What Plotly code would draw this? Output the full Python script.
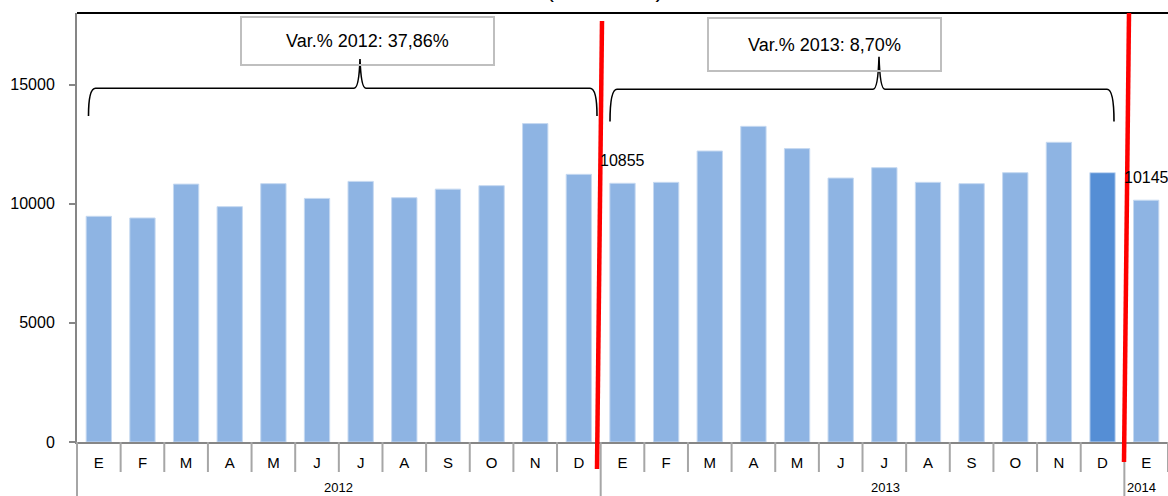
import plotly.graph_objects as go

# ---------------- data ----------------
months = ["E", "F", "M", "A", "M", "J", "J", "A", "S", "O", "N", "D",
          "E", "F", "M", "A", "M", "J", "J", "A", "S", "O", "N", "D",
          "E"]
years = ["2012", "2013", "2014"]
values_2012 = [9470, 9400, 10820, 9875, 10840, 10220, 10935, 10250, 10610, 10755, 13360, 11230]
values_2013 = [10855, 10895, 12210, 13245, 12310, 11075, 11510, 10895, 10840, 11300, 12575, 11300]
values_2014 = [10145]
labels_shown = {12: "10855", 24: "10145"}
var_texts = ["Var.% 2012: 37,86%", "Var.% 2013: 8,70%"]
title_text = "(Unidades)"
y_tickvals = [0, 5000, 10000, 15000]
y_ticktext = ["0", "5000", "10000", "15000"]

values = values_2012 + values_2013 + values_2014
xs = list(range(len(values)))
light = "#8EB4E3"
dark = "#558ED5"
colors = [light] * len(values)
colors[23] = dark

FONT = "Liberation Sans, Arial, sans-serif"

# page geometry
W, H = 1168, 496
L, R, T, B = 77, 1168, 13, 442


def px2x(p):
    return (p - L) / (R - L)


def py2y(p):
    return (B - p) / (B - T)


fig = go.Figure()
fig.add_trace(go.Bar(
    x=xs, y=values, marker=dict(color=colors, line=dict(color="#C6D9F1", width=1)),
    width=0.58, hoverinfo="x+y", showlegend=False,
))

shapes = []
annotations = []

# top border line
shapes.append(dict(type="line", xref="paper", yref="paper", x0=0, x1=1, y0=1, y1=1,
                   line=dict(color="#000000", width=2)))

# category separators below the axis
n = len(values)
year_bounds = [-0.5, 11.5, 23.5]
for k in range(n + 1):
    b = k - 0.5
    xp = (b + 0.5) / n
    y1 = py2y(500) if b in year_bounds else py2y(472)
    shapes.append(dict(type="line", xref="paper", yref="paper", x0=xp, x1=xp,
                       y0=0, y1=y1, line=dict(color="#A6A6A6", width=2)))

# year labels
for txt, pxc in zip(years, [338.6, 885, 1141]):
    annotations.append(dict(text=txt, x=px2x(pxc), y=py2y(487.5), xref="paper", yref="paper",
                            showarrow=False, font=dict(family=FONT, size=13, color="#000"),
                            xanchor="center", yanchor="middle"))


# braces
def brace(x0, x1, xm, yb, yh, yt):
    pts = (f"M {px2x(x0)},{py2y(yb)} "
           f"Q {px2x(x0)},{py2y(yh)} {px2x(x0 + 7)},{py2y(yh)} "
           f"L {px2x(xm - 6)},{py2y(yh)} "
           f"Q {px2x(xm - 1)},{py2y(yh)} {px2x(xm)},{py2y(yt)} "
           f"Q {px2x(xm + 1)},{py2y(yh)} {px2x(xm + 6)},{py2y(yh)} "
           f"L {px2x(x1 - 7)},{py2y(yh)} "
           f"Q {px2x(x1)},{py2y(yh)} {px2x(x1)},{py2y(yb)}")
    return dict(type="path", xref="paper", yref="paper", path=pts,
                line=dict(color="#000000", width=1.6), layer="above")


shapes.append(brace(88.5, 597, 360, 116, 88.3, 59))
shapes.append(brace(610, 1114, 879, 121.5, 89.3, 56.7))

# red separators
shapes.append(dict(type="line", xref="paper", yref="paper",
                   x0=px2x(602), y0=py2y(21), x1=px2x(597), y1=py2y(469),
                   line=dict(color="#FF0000", width=4.5), layer="above"))
shapes.append(dict(type="line", xref="paper", yref="paper",
                   x0=px2x(1129), y0=py2y(13), x1=px2x(1124), y1=py2y(462),
                   line=dict(color="#FF0000", width=4.5), layer="above"))

# variation boxes
for txt, cx, cy, bw, bh in [(var_texts[0], 367, 40.5, 251, 46), (var_texts[1], 824, 44.2, 231, 51)]:
    annotations.append(dict(text=txt, x=px2x(cx), y=py2y(cy), xref="paper", yref="paper",
                            showarrow=False, font=dict(family=FONT, size=18, color="#000"),
                            bordercolor="#BFBFBF", borderwidth=2, borderpad=0,
                            bgcolor="rgba(0,0,0,0)", width=bw, height=bh,
                            xanchor="center", yanchor="middle", valign="middle"))

# data labels
for idx, txt in labels_shown.items():
    annotations.append(dict(text=txt, x=idx, y=values[idx], xref="x", yref="y",
                            showarrow=False, font=dict(family=FONT, size=16, color="#000"),
                            xanchor="center", yanchor="middle", yshift=23))

# title (cut at top)
annotations.append(dict(text=title_text, x=px2x(604), y=py2y(-12), xref="paper", yref="paper",
                        showarrow=False, font=dict(family=FONT, size=24, color="#000"),
                        xanchor="center", yanchor="middle"))

fig.update_layout(
    width=W, height=H,
    margin=dict(l=L, r=W - R, t=T, b=H - B, autoexpand=False),
    plot_bgcolor="white", paper_bgcolor="white",
    shapes=shapes, annotations=annotations,
    xaxis=dict(range=[-0.5, n - 0.5], tickmode="array", tickvals=xs, ticktext=months,
               showgrid=False, zeroline=False, showline=True, linecolor="#868686", linewidth=2,
               ticks="", tickfont=dict(family=FONT, size=15, color="#000"),
               ticklabelstandoff=6, fixedrange=True),
    yaxis=dict(range=[0, 18000], tickmode="array", tickvals=y_tickvals, ticktext=y_ticktext,
               showgrid=False, zeroline=False, showline=True, linecolor="#868686", linewidth=2,
               ticks="outside", ticklen=6, tickcolor="#868686", tickwidth=2,
               tickfont=dict(family=FONT, size=16, color="#000"),
               ticklabelstandoff=11, fixedrange=True),
)

fig.write_html("out.html", config={"displayModeBar": False},
               post_script="document.body.style.margin='0';document.body.style.overflow='hidden';")
